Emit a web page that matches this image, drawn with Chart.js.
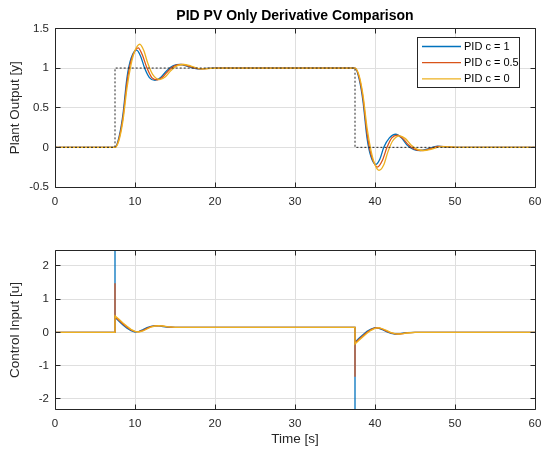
<!DOCTYPE html>
<html><head><meta charset="utf-8">
<script src="https://cdn.jsdelivr.net/npm/chart.js@4"></script>
<style>
html,body{margin:0;padding:0;background:#fff;width:554px;height:451px;overflow:hidden}
canvas{position:absolute;left:0}
#c1{top:0}#c2{top:215px}
</style></head>
<body>
<canvas id="c1" width="554" height="215"></canvas>
<canvas id="c2" width="554" height="236"></canvas>
<script>
// ---------- data ----------
const xTicks = [0, 10, 20, 30, 40, 50, 60];
const yTicksTop = [-0.5, 0, 0.5, 1, 1.5];
const yTicksBot = [-2, -1, 0, 1, 2];
const seriesLabels = ['PID c = 1', 'PID c = 0.5', 'PID c = 0'];
const seriesColors = ['#0072BD', '#D95319', '#EDB120'];

// setpoint (reference)
const refT = [0, 7.5, 7.5, 37.5, 37.5, 60];
const refV = [0, 0, 1, 1, 0, 0];

// plant output y, c = 1
const yBlueT = [0, 7.5, 8, 8.5, 9, 9.5, 10.2, 10.7, 11.2, 11.8, 12.5, 13.2, 14, 14.8, 15.7, 16.6, 17.8, 19, 20, 37.5,
                38, 38.5, 39, 39.5, 40.1, 40.6, 41.1, 41.8, 42.6, 43.3, 44, 44.8, 45.7, 46.6, 47.8, 49, 50, 60];
const yBlueV = [0, 0, 0.13, 0.42, 0.88, 1.12, 1.225, 1.15, 1.0, 0.88, 0.845, 0.88, 0.97, 1.03, 1.045, 1.02, 0.99, 0.995, 1.0, 1.0,
                0.87, 0.58, 0.12, -0.12, -0.215, -0.15, 0.0, 0.12, 0.165, 0.12, 0.03, -0.025, -0.04, -0.02, 0.015, 0.005, 0, 0];
// plant output y, c = 0.5
const yRedT = [0, 7.5, 8, 8.5, 9, 9.5, 10, 10.4, 10.9, 11.5, 12.1, 12.8, 13.5, 14.2, 15, 15.9, 16.8, 18, 19.2, 20.2, 37.5,
               38, 38.5, 39, 39.5, 40, 40.3, 40.9, 41.5, 42.1, 42.8, 43.5, 44.2, 45, 45.9, 46.8, 48, 49.2, 50.2, 60];
const yRedV = [0, 0, 0.11, 0.38, 0.82, 1.09, 1.22, 1.255, 1.17, 1.0, 0.88, 0.85, 0.89, 0.97, 1.03, 1.045, 1.02, 0.99, 0.995, 1.0, 1.0,
               0.89, 0.62, 0.18, -0.09, -0.22, -0.25, -0.17, 0.0, 0.12, 0.155, 0.11, 0.03, -0.025, -0.04, -0.02, 0.012, 0.005, 0, 0];
// plant output y, c = 0
const yYelT = [0, 7.5, 8, 8.5, 9, 9.5, 10, 10.6, 11.1, 11.6, 12.2, 13.1, 13.8, 14.5, 15.3, 16.1, 17, 18.3, 19.5, 20.5, 37.5,
               38, 38.5, 39, 39.5, 40, 40.5, 41.1, 41.6, 42.2, 43.1, 43.8, 44.5, 45.3, 46.1, 47, 48.3, 49.5, 50.5, 60];
const yYelV = [0, 0, 0.09, 0.34, 0.75, 1.04, 1.22, 1.30, 1.22, 1.06, 0.92, 0.855, 0.89, 0.97, 1.03, 1.045, 1.025, 0.99, 0.995, 1.0, 1.0,
               0.91, 0.66, 0.25, -0.04, -0.22, -0.29, -0.22, -0.06, 0.08, 0.145, 0.11, 0.03, -0.025, -0.04, -0.025, 0.01, 0.005, 0, 0];

// control input u, c = 1
const uBlueT = [0, 7.5, 7.5, 7.5, 8, 8.5, 9, 9.5, 10, 10.5, 11, 11.5, 12, 12.5, 13, 13.5, 14, 15, 37.5,
                37.5, 37.5, 38, 38.5, 39, 39.5, 40, 40.5, 41, 41.5, 42, 42.5, 43, 43.5, 44, 45, 60];
const uBlueV = [0, 0, 4, 0.45, 0.33, 0.22, 0.12, 0.05, 0.01, 0.03, 0.08, 0.14, 0.18, 0.2, 0.195, 0.175, 0.16, 0.15, 0.15,
                -4, -0.3, -0.18, -0.07, 0.03, 0.1, 0.14, 0.12, 0.07, 0.01, -0.03, -0.05, -0.045, -0.025, -0.01, 0, 0];
// control input u, c = 0.5
const uRedT = [0, 7.5, 7.5, 7.5, 8, 8.5, 9, 9.5, 10, 10.5, 11, 11.5, 12, 12.5, 13, 13.5, 14, 15, 37.5,
               37.5, 37.5, 38, 38.5, 39, 39.5, 40, 40.5, 41, 41.5, 42, 42.5, 43, 43.5, 44, 45, 60];
const uRedV = [0, 0, 1.47, 0.47, 0.36, 0.25, 0.15, 0.07, 0.02, 0.02, 0.06, 0.12, 0.17, 0.195, 0.2, 0.185, 0.165, 0.15, 0.15,
               -1.33, -0.32, -0.21, -0.1, 0, 0.08, 0.13, 0.13, 0.09, 0.03, -0.02, -0.045, -0.05, -0.035, -0.015, 0, 0];
// control input u, c = 0
const uYelT = [0, 7.5, 7.5, 8, 8.5, 9, 9.5, 10, 10.5, 11, 11.5, 12, 12.5, 13, 13.5, 14, 15, 37.5,
               37.5, 38, 38.5, 39, 39.5, 40, 40.5, 41, 41.5, 42, 42.5, 43, 43.5, 44, 45, 60];
const uYelV = [0, 0, 0.49, 0.39, 0.28, 0.18, 0.09, 0.03, 0.01, 0.04, 0.1, 0.16, 0.19, 0.2, 0.19, 0.17, 0.15, 0.15,
               -0.35, -0.24, -0.13, -0.03, 0.06, 0.12, 0.14, 0.1, 0.05, -0.01, -0.04, -0.05, -0.04, -0.02, 0, 0];

// ---------- helpers ----------
const FONT = "'Liberation Sans', Arial, Helvetica, sans-serif";
const AX = '#262626';
const pts = (t, v) => t.map((x, i) => ({x, y: v[i]}));

function lineDs(label, t, v, color, order, smooth) {
  return {
    label, data: pts(t, v), borderColor: color, backgroundColor: color,
    borderWidth: 1.3, pointRadius: 0, order,
    tension: 0, cubicInterpolationMode: smooth ? 'monotone' : 'default'
  };
}

const al = v => Math.round(v - 0.5) + 0.5;

const boxPlugin = {
  id: 'box',
  afterDatasetsDraw(chart) {
    const {ctx, chartArea: a, scales} = chart;
    const L = al(a.left), R = al(a.right), T = al(a.top), B = al(a.bottom);
    ctx.save();
    ctx.strokeStyle = AX; ctx.lineWidth = 1;
    ctx.beginPath();
    ctx.rect(L, T, R - L, B - T);
    const tl = 5;
    scales.x.ticks.forEach(tk => {
      const px = al(scales.x.getPixelForValue(tk.value));
      ctx.moveTo(px, B); ctx.lineTo(px, B - tl);
      ctx.moveTo(px, T); ctx.lineTo(px, T + tl);
    });
    scales.y.ticks.forEach(tk => {
      const py = al(scales.y.getPixelForValue(tk.value));
      ctx.moveTo(L, py); ctx.lineTo(L + tl, py);
      ctx.moveTo(R, py); ctx.lineTo(R - tl, py);
    });
    ctx.stroke();
    ctx.restore();
  }
};

const legendPlugin = {
  id: 'mlLegend',
  afterDraw(chart) {
    const ctx = chart.ctx;
    const bx = 417.5, by = 37.5, bw = 102, bh = 50;
    ctx.save();
    ctx.fillStyle = '#fff';
    ctx.fillRect(bx, by, bw, bh);
    ctx.strokeStyle = AX; ctx.lineWidth = 1;
    ctx.strokeRect(bx, by, bw, bh);
    ctx.font = '11px ' + FONT;
    ctx.textBaseline = 'middle';
    ctx.textAlign = 'left';
    seriesLabels.forEach((lab, i) => {
      const y = 46.5 + i * 16.2;
      ctx.strokeStyle = seriesColors[i];
      ctx.lineWidth = 1.3;
      ctx.beginPath(); ctx.moveTo(422, y); ctx.lineTo(461, y); ctx.stroke();
      ctx.fillStyle = '#000';
      ctx.fillText(lab, 464, y + 0.5);
    });
    ctx.restore();
  }
};

function makeScales(yTicks, yMin, yMax, yTitle, xTitle, xHeight) {
  return {
    x: {
      type: 'linear', min: 0, max: 60,
      afterBuildTicks: s => { s.ticks = xTicks.map(v => ({value: v})); },
      afterFit: s => { s.height = xHeight; },
      grid: {color: '#dfdfdf', lineWidth: 1, drawTicks: false},
      border: {display: false},
      ticks: {padding: 7.5, maxRotation: 0, autoSkip: false, color: AX, font: {family: FONT, size: 11.5},
              callback: v => String(v)},
      title: xTitle ? {display: true, text: xTitle, color: AX, font: {family: FONT, size: 13.5},
                       padding: {top: 0, bottom: 3.9}} : {display: false}
    },
    y: {
      type: 'linear', min: yMin, max: yMax,
      afterBuildTicks: s => { s.ticks = yTicks.map(v => ({value: v})); },
      afterFit: s => { s.width = 55; },
      grid: {color: '#dfdfdf', lineWidth: 1, drawTicks: false},
      border: {display: false},
      ticks: {padding: 6, color: AX, font: {family: FONT, size: 11.5}, callback: v => String(v)},
      title: {display: true, text: yTitle, color: AX, font: {family: FONT, size: 13.5},
              padding: {top: 7.5, bottom: 0}}
    }
  };
}

const common = {
  responsive: false, animation: false, devicePixelRatio: 1,
  events: [],
  plugins: {legend: {display: false}, tooltip: {enabled: false}}
};

// ---------- top chart ----------
new Chart(document.getElementById('c1'), {
  type: 'line',
  data: {datasets: [
    {label: 'ref', data: pts(refT, refV), borderColor: '#262626', borderWidth: 1, borderDash: [2, 2],
     pointRadius: 0, tension: 0, order: 0},
    lineDs(seriesLabels[0], yBlueT, yBlueV, seriesColors[0], 3, true),
    lineDs(seriesLabels[1], yRedT, yRedV, seriesColors[1], 2, true),
    lineDs(seriesLabels[2], yYelT, yYelV, seriesColors[2], 1, true)
  ]},
  options: Object.assign({}, common, {
    layout: {padding: {left: 0, right: 19, top: 0, bottom: 0}},
    plugins: Object.assign({}, common.plugins, {
      title: {display: true, text: 'PID PV Only Derivative Comparison', fullSize: false, color: '#000',
              font: {family: FONT, size: 14, weight: 'bold'}, padding: {top: 7.5, bottom: 4.1}}
    }),
    scales: makeScales(yTicksTop, -0.5, 1.5, 'Plant Output [y]', null, 28)
  }),
  plugins: [boxPlugin, legendPlugin]
});

// ---------- bottom chart ----------
new Chart(document.getElementById('c2'), {
  type: 'line',
  data: {datasets: [
    lineDs(seriesLabels[0], uBlueT, uBlueV, seriesColors[0], 3, false),
    lineDs(seriesLabels[1], uRedT, uRedV, seriesColors[1], 2, false),
    lineDs(seriesLabels[2], uYelT, uYelV, seriesColors[2], 1, false)
  ]},
  options: Object.assign({}, common, {
    layout: {padding: {left: 0, right: 19, top: 35.7, bottom: 0}},
    scales: makeScales(yTicksBot, -2.31, 2.45, 'Control Input [u]', 'Time [s]', 41.7)
  }),
  plugins: [boxPlugin]
});
</script>
</body></html>
